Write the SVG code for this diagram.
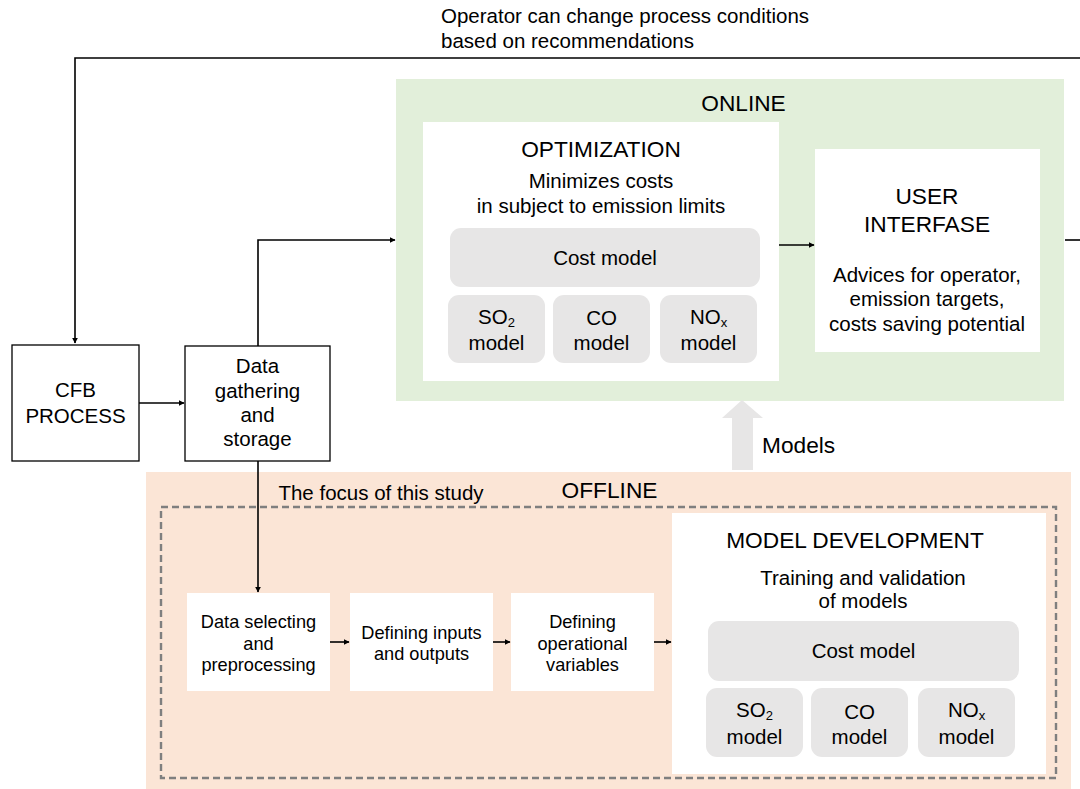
<svg xmlns="http://www.w3.org/2000/svg" width="1080" height="789" viewBox="0 0 1080 789">
<defs>
<style>
text{font-family:"Liberation Sans",Arial,sans-serif;fill:#000;text-anchor:middle}
.t20{font-size:20.5px}
.t22{font-size:22.7px}
.t18{font-size:18.2px}
.box{fill:#fff;stroke:#000;stroke-width:1.3}
.wbox{fill:#fff}
.gbox{fill:#e7e6e6}
.conn{fill:none;stroke:#000;stroke-width:1.6}
.sub{font-size:13px}
</style>
<marker id="ah" viewBox="0 0 10 10" refX="9" refY="5" markerWidth="6" markerHeight="6" markerUnits="userSpaceOnUse" orient="auto">
<path d="M0,0 L10,5 L0,10 z" fill="#000"/>
</marker>
</defs>
<rect width="1080" height="789" fill="#fff"/>

<g id="online">
<rect x="396" y="79" width="668" height="322" fill="#e2efda"/>
<text class="t22" x="743.5" y="111">ONLINE</text>
</g>

<g id="offline">
<rect x="146" y="472" width="925" height="317" fill="#fbe5d6"/>
<text class="t22" x="609.5" y="498">OFFLINE</text>
<rect x="161" y="507" width="895" height="271" fill="none" stroke="#7f7f7f" stroke-width="2.4" stroke-dasharray="7,4"/>
<text class="t20" x="381" y="500">The focus of this study</text>
</g>

<g id="feedback-label">
<text class="t20" x="441" y="23" style="text-anchor:start">Operator can change process conditions</text>
<text class="t20" x="441" y="48" style="text-anchor:start">based on recommendations</text>
</g>

<g id="cfb">
<rect class="box" x="12" y="345" width="127" height="116"/>
<text class="t20" x="75.5" y="397">CFB</text>
<text class="t20" x="75.5" y="423">PROCESS</text>
</g>

<g id="data-gathering">
<rect class="box" x="185" y="346" width="145" height="115"/>
<text class="t20" x="257.5" y="373">Data</text>
<text class="t20" x="257.5" y="398">gathering</text>
<text class="t20" x="257.5" y="422">and</text>
<text class="t20" x="257.5" y="446">storage</text>
</g>

<g id="optimization">
<rect class="wbox" x="423" y="122" width="356" height="259"/>
<text class="t22" x="601" y="157">OPTIMIZATION</text>
<text class="t20" x="601" y="188">Minimizes costs</text>
<text class="t20" x="601" y="213">in subject to emission limits</text>
<rect class="gbox" x="450" y="228" width="310" height="59" rx="11"/>
<text class="t20" x="605" y="265">Cost model</text>
<rect class="gbox" x="448" y="295" width="97" height="68" rx="11"/>
<text class="t20" x="496.5" y="324">SO<tspan class="sub" dy="3">2</tspan></text>
<text class="t20" x="496.5" y="350">model</text>
<rect class="gbox" x="553" y="295" width="97" height="68" rx="11"/>
<text class="t20" x="601.5" y="325">CO</text>
<text class="t20" x="601.5" y="350">model</text>
<rect class="gbox" x="660" y="295" width="97" height="68" rx="11"/>
<text class="t20" x="708.5" y="324">NO<tspan class="sub" dy="3">x</tspan></text>
<text class="t20" x="708.5" y="350">model</text>
</g>

<g id="user-interface">
<rect class="wbox" x="815" y="149" width="225" height="203"/>
<text class="t22" x="927" y="204">USER</text>
<text class="t22" x="927" y="232">INTERFASE</text>
<text class="t20" x="927" y="282">Advices for operator,</text>
<text class="t20" x="927" y="306">emission targets,</text>
<text class="t20" x="927" y="331">costs saving potential</text>
</g>

<g id="data-selecting">
<rect class="wbox" x="187" y="593" width="143" height="98"/>
<text class="t18" x="258.5" y="628">Data selecting</text>
<text class="t18" x="258.5" y="650">and</text>
<text class="t18" x="258.5" y="671">preprocessing</text>
</g>

<g id="defining-io">
<rect class="wbox" x="350" y="593" width="143" height="98"/>
<text class="t18" x="421.5" y="639">Defining inputs</text>
<text class="t18" x="421.5" y="660">and outputs</text>
</g>

<g id="defining-op">
<rect class="wbox" x="511" y="593" width="143" height="98"/>
<text class="t18" x="582.5" y="628">Defining</text>
<text class="t18" x="582.5" y="650">operational</text>
<text class="t18" x="582.5" y="671">variables</text>
</g>

<g id="model-development">
<rect class="wbox" x="672" y="513" width="374" height="261"/>
<text class="t22" x="855" y="548">MODEL DEVELOPMENT</text>
<text class="t20" x="863" y="585">Training and validation</text>
<text class="t20" x="863" y="608">of models</text>
<rect class="gbox" x="708" y="621" width="311" height="60" rx="11"/>
<text class="t20" x="863.5" y="658">Cost model</text>
<rect class="gbox" x="706" y="688" width="97" height="69" rx="11"/>
<text class="t20" x="754.5" y="717">SO<tspan class="sub" dy="3">2</tspan></text>
<text class="t20" x="754.5" y="744">model</text>
<rect class="gbox" x="811" y="688" width="97" height="69" rx="11"/>
<text class="t20" x="859.5" y="719">CO</text>
<text class="t20" x="859.5" y="744">model</text>
<rect class="gbox" x="918" y="688" width="97" height="69" rx="11"/>
<text class="t20" x="966.5" y="717">NO<tspan class="sub" dy="3">x</tspan></text>
<text class="t20" x="966.5" y="744">model</text>
</g>

<g id="models-arrow">
<polygon points="742,400 763,418 753,418 753,470 732,470 732,418 722,418" fill="#e7e6e6"/>
<text class="t22" x="762" y="453" style="text-anchor:start">Models</text>
</g>

<g id="connectors">
<path class="conn" d="M1080,58 H75 V343" marker-end="url(#ah)"/>
<path class="conn" d="M1065,240 H1080"/>
<path class="conn" d="M139,403 H184" marker-end="url(#ah)"/>
<path class="conn" d="M258,346 V240 H395" marker-end="url(#ah)"/>
<path class="conn" d="M258,461 V592" marker-end="url(#ah)"/>
<path class="conn" d="M779,245 H814" marker-end="url(#ah)"/>
<path class="conn" d="M330,642 H349" marker-end="url(#ah)"/>
<path class="conn" d="M493,642 H510" marker-end="url(#ah)"/>
<path class="conn" d="M654,642 H671" marker-end="url(#ah)"/>
</g>
</svg>
